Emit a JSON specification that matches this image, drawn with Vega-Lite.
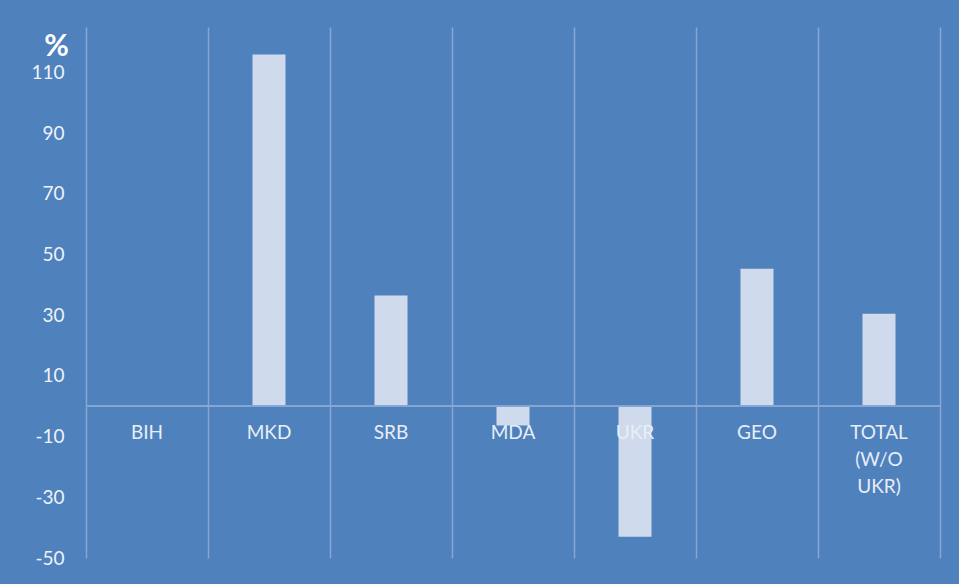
{
  "$schema": "https://vega.github.io/schema/vega-lite/v6.json",
  "width": 854,
  "height": 531,
  "autosize": {"type": "none"},
  "padding": {"left": 86, "top": 27, "right": 19, "bottom": 26},
  "background": "#4F81BD",
  "config": {
    "view": {"stroke": null},
    "font": "Lato"
  },
  "data": {
    "values": [
      {"country": "BIH", "value": 0},
      {"country": "MKD", "value": 115.9},
      {"country": "SRB", "value": 36.5},
      {"country": "MDA", "value": -6.3},
      {"country": "UKR", "value": -43.0},
      {"country": "GEO", "value": 45.3},
      {"country": "TOTAL (W/O UKR)", "value": 30.5}
    ]
  },
  "layer": [
    {
      "mark": {"type": "bar", "size": 33, "fill": "#CFDBED"},
      "encoding": {
        "x": {
          "field": "country",
          "type": "nominal",
          "sort": null,
          "scale": {"paddingInner": 0, "paddingOuter": 0},
          "axis": {
            "title": null,
            "labels": false,
            "ticks": false,
            "domain": false,
            "grid": true,
            "tickBand": "extent",
            "gridColor": "#86A6D4",
            "gridWidth": 1.5,
            "gridOpacity": 1
          }
        },
        "y": {
          "field": "value",
          "type": "quantitative",
          "scale": {"domain": [-50, 125], "nice": false, "zero": false},
          "axis": {
            "values": [-50, -30, -10, 10, 30, 50, 70, 90, 110],
            "labelExpr": "'' + datum.value",
            "grid": false,
            "ticks": false,
            "domain": false,
            "labelColor": "#EEF2F8",
            "labelFontSize": 19,
            "labelFont": "Lato",
            "labelPadding": 22,
            "title": "%",
            "titleAngle": 0,
            "titleFont": "Lato",
            "titleFontSize": 30,
            "titleFontWeight": "bold",
            "titleColor": "#FFFFFF",
            "titleAlign": "center",
            "titleBaseline": "alphabetic",
            "titleX": -30,
            "titleY": 28
          }
        }
      }
    },
    {
      "mark": {"type": "rule", "color": "#86A6D4", "strokeWidth": 1.5},
      "encoding": {"y": {"datum": 0}}
    },
    {
      "mark": {
        "type": "text",
        "baseline": "top",
        "align": "center",
        "dy": 18,
        "fontSize": 19,
        "font": "Lato",
        "lineBreak": " ",
        "lineHeight": 27,
        "color": "#E8EEF7"
      },
      "encoding": {
        "x": {"field": "country", "type": "nominal", "sort": null},
        "y": {"datum": 0},
        "text": {"field": "country"}
      }
    }
  ]
}
